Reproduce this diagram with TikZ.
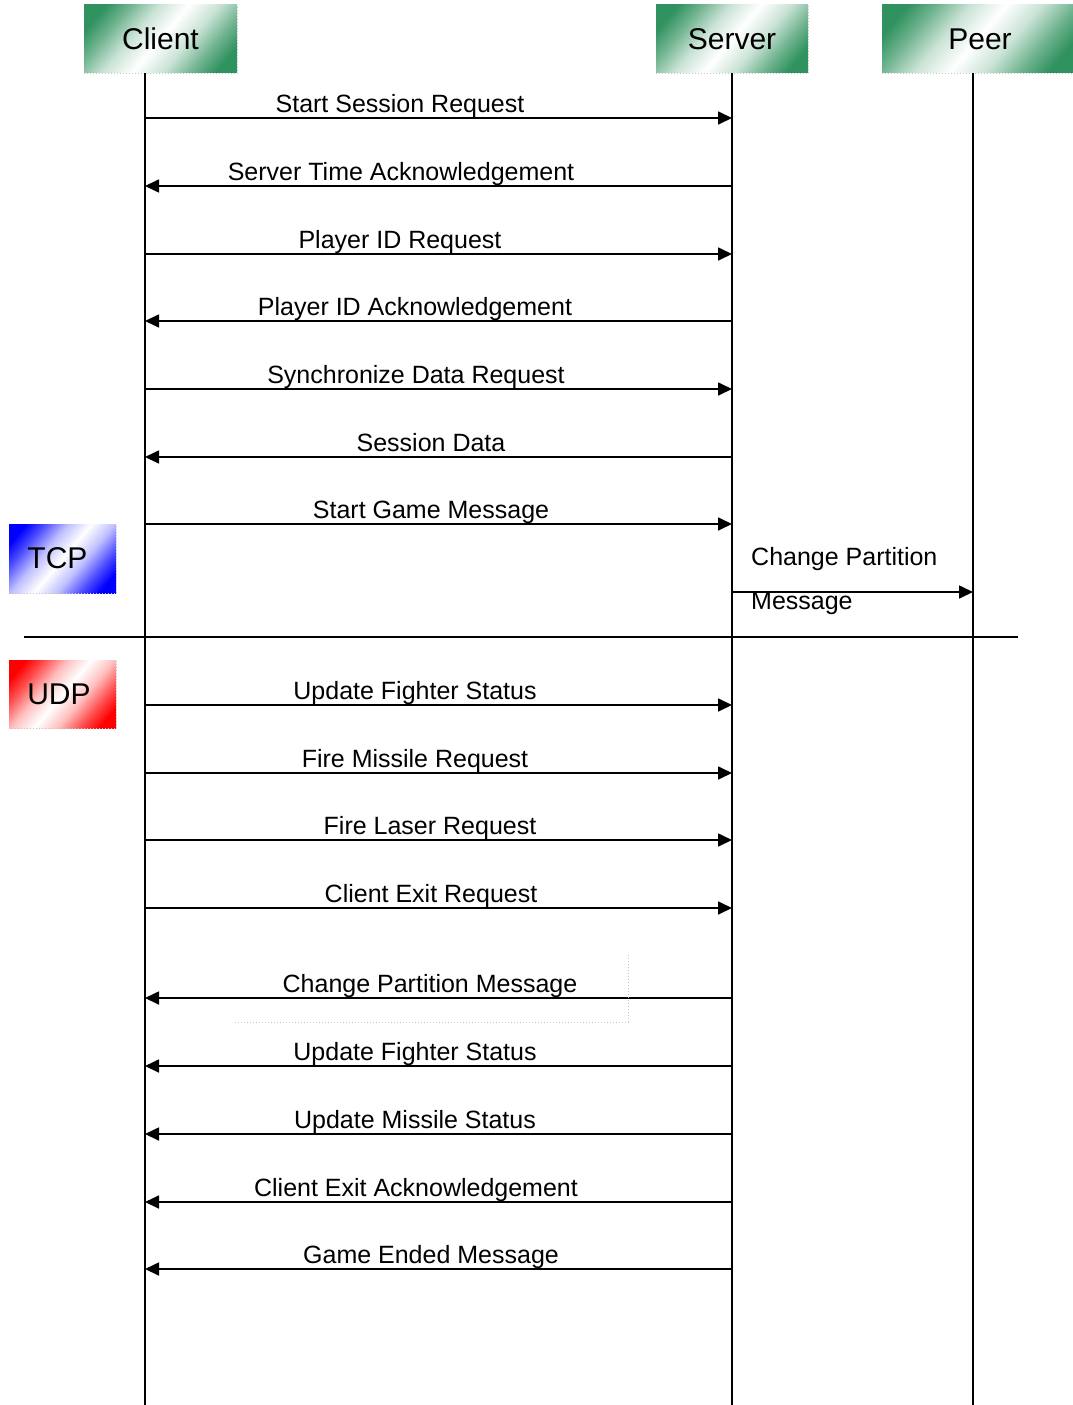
\documentclass[tikz,border=0pt]{standalone}
\usepackage{fontspec}
\setmainfont{Liberation Sans}
\usetikzlibrary{arrows.meta}

\definecolor{hdrgreen}{RGB}{48,146,94}
\definecolor{tcpblue}{RGB}{0,0,255}
\definecolor{udpred}{RGB}{255,0,0}

% diagonal shadings: colour in two opposite corners, white across the middle
\newcommand{\cornershading}[2]{%
  \pgfdeclarehorizontalshading{#1}{100bp}{color(0bp)=(#2); color(22bp)=(#2); color(30bp)=(#2!70); color(40bp)=(#2!25); color(50bp)=(white); color(60bp)=(#2!25); color(70bp)=(#2!70); color(78bp)=(#2); color(100bp)=(#2)}}
\cornershading{greenshade}{hdrgreen}
\cornershading{blueshade}{tcpblue}
\cornershading{redshade}{udpred}

\begin{document}
\begin{tikzpicture}[x=1pt,y=-1pt,
  font=\fontsize{25}{30}\selectfont,
  life/.style={line width=1.8pt},
  msg/.style={line width=1.7pt,-{Triangle[length=14pt,width=13pt]}},
  lbl/.style={anchor=base,inner sep=0pt},
  box/.style={inner sep=0pt,shade,shading angle=-40,font=\fontsize{30}{36}\selectfont},
  hdr/.style={box,shading=greenshade,minimum height=68pt},
  edge shadow/.style={gray!45,dotted,line width=1pt}]

\useasboundingbox[fill=white] (0,0) rectangle (1073,1405);

% participant headers
\node[hdr,minimum width=153pt] (client) at (160.5,39) {Client};
\node[hdr,minimum width=152pt] (server) at (732,39) {Server};
\node[hdr,minimum width=191pt] (peer) at (977.5,39) {\hspace*{5pt}Peer};

% protocol tags
\node[box,shading=blueshade,minimum width=107pt,minimum height=69pt] (tcp) at (62.5,558.5) {\hspace*{-10pt}TCP};
\node[box,shading=redshade,minimum width=107pt,minimum height=68pt] (udp) at (62.5,694) {\hspace*{-7pt}UDP};

\foreach \b in {client,server,peer,tcp,udp}
  \draw[edge shadow] (\b.south west) -- (\b.south east) -- (\b.north east);

% lifelines
\coordinate (cTop) at (145,73);  \coordinate (cBot) at (145,1405);
\coordinate (sTop) at (732,73);  \coordinate (sBot) at (732,1405);
\coordinate (pTop) at (973,73);  \coordinate (pBot) at (973,1405);
\draw[life] (cTop) -- (cBot);
\draw[life] (sTop) -- (sBot);
\draw[life] (pTop) -- (pBot);

% client -> server
\foreach \y/\cx/\t [count=\i] in {
  118/400/Start Session Request,
  254/400/Player ID Request,
  389/416/Synchronize Data Request,
  524/431/Start Game Message,
  705/415/Update Fighter Status,
  773/415/Fire Missile Request,
  840/430/Fire Laser Request,
  908/431/Client Exit Request}{
  \coordinate (cr\i) at (145,\y);
  \coordinate (sr\i) at (732,\y);
  \draw[msg] (cr\i) -- (sr\i);
  \node[lbl] (lr\i) at (\cx,\y-6) {\t};
}

% server -> client
\foreach \y/\cx/\t [count=\i] in {
  186/401/Server Time Acknowledgement,
  321/415/Player ID Acknowledgement,
  457/431/Session Data,
  998/430/Change Partition Message,
  1066/415/Update Fighter Status,
  1134/415/Update Missile Status,
  1202/416/Client Exit Acknowledgement,
  1269/431/Game Ended Message}{
  \coordinate (sl\i) at (732,\y);
  \coordinate (cl\i) at (145,\y);
  \draw[msg] (sl\i) -- (cl\i);
  \node[lbl] (ll\i) at (\cx,\y-6) {\t};
}

% faint frame around the UDP change-partition label
\draw[edge shadow] (235,1022) -- (628,1022) -- (628,955);

% server -> peer
\coordinate (sp) at (732,592);
\coordinate (pp) at (973,592);
\draw[msg] (sp) -- (pp);
\node[lbl,anchor=base west] (cp1) at (751,565) {Change Partition};
\node[lbl,anchor=base west] (cp2) at (751,609) {Message};

% TCP / UDP divider
\coordinate (dl) at (24,637);
\coordinate (dr) at (1018,637);
\draw[life] (dl) -- (dr);

\end{tikzpicture}
\end{document}
